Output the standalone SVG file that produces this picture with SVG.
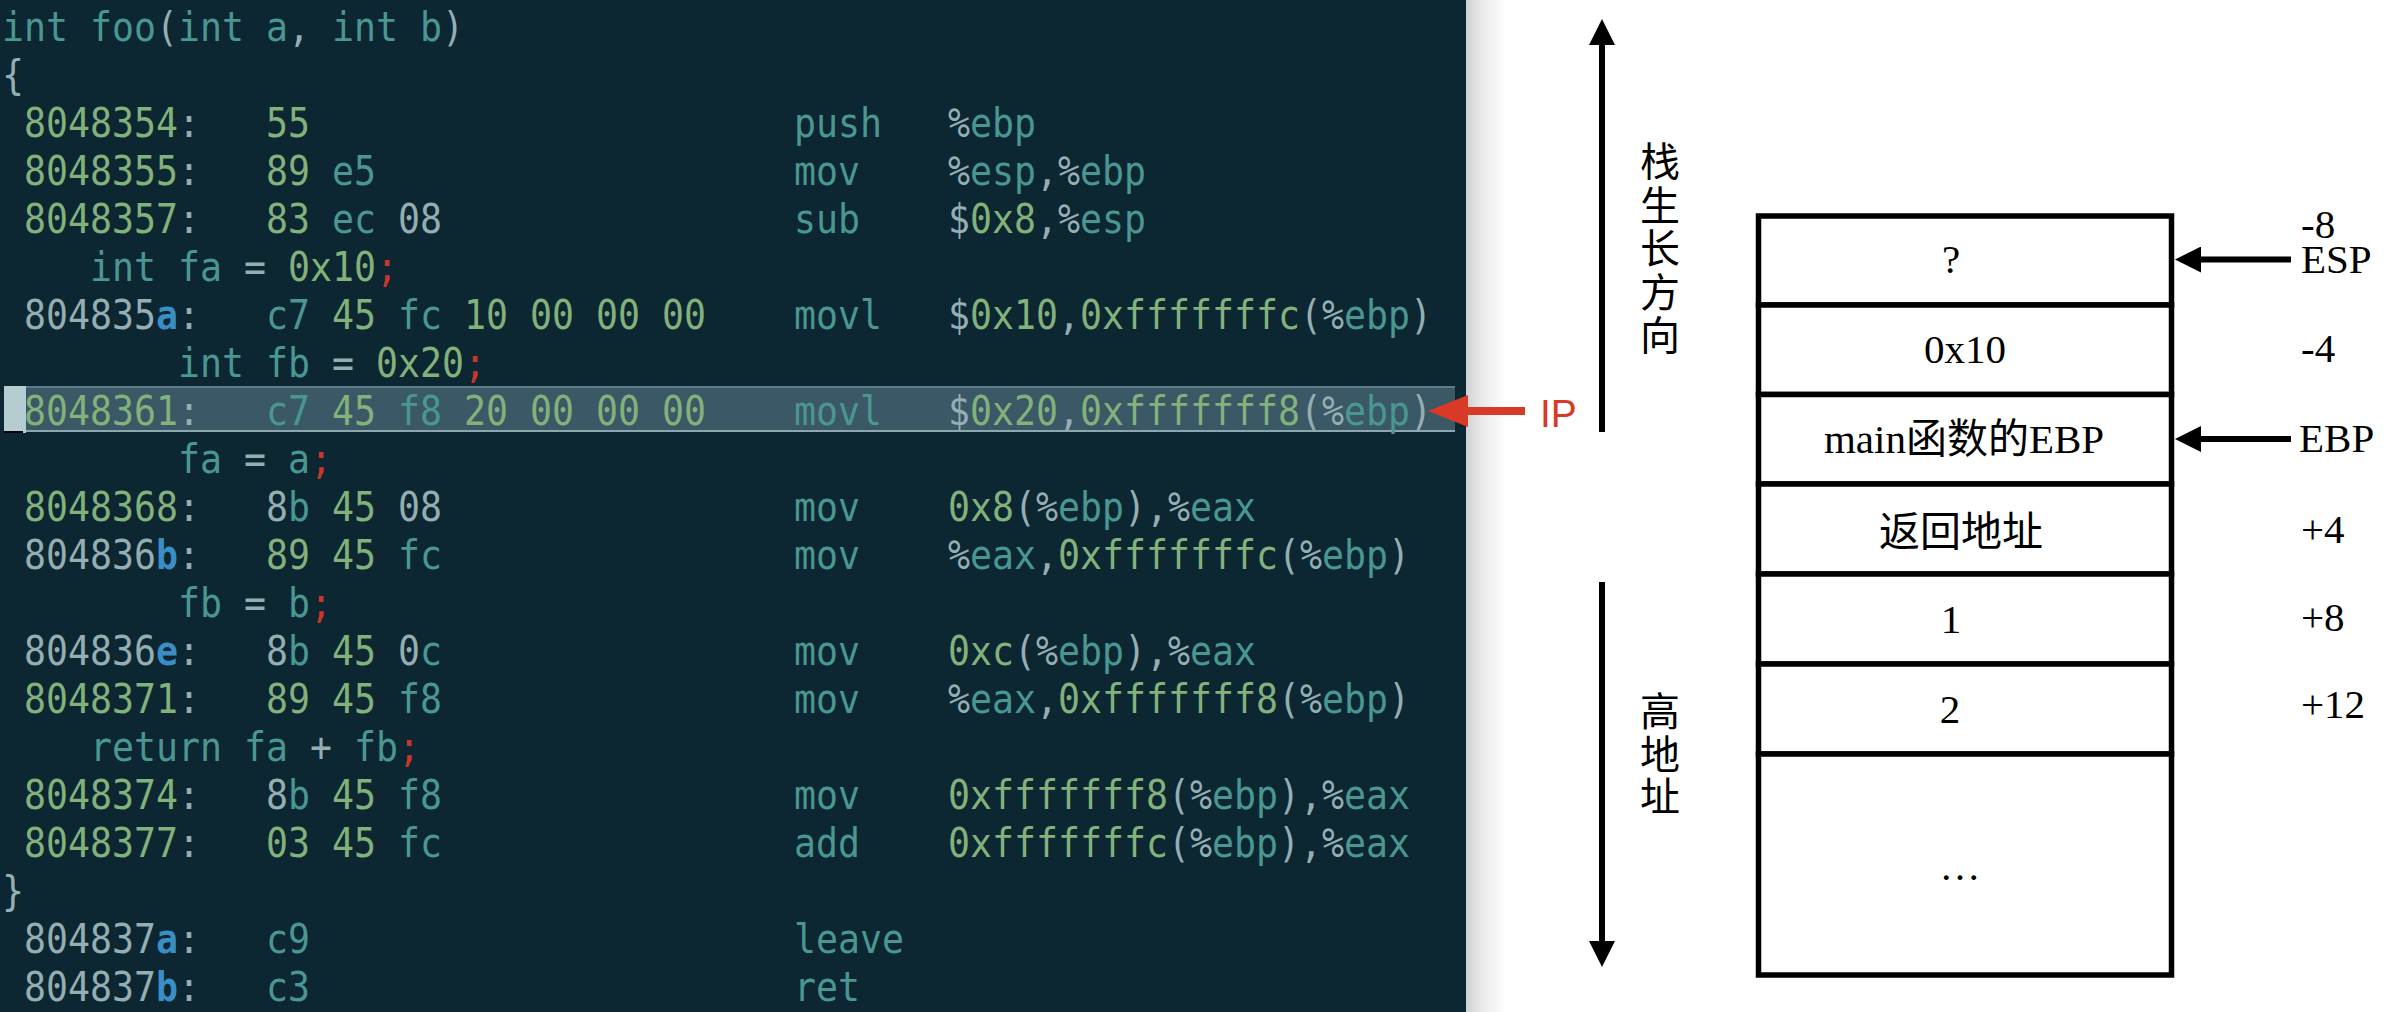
<svg xmlns="http://www.w3.org/2000/svg" width="2404" height="1012" viewBox="0 0 2404 1012">
<style>
.code{font-family:"DejaVu Sans Mono",monospace;font-size:40.5px}
.t{fill:#4a9792}
.g{fill:#82b17a}
.w{fill:#94aeb2}
.b{fill:#3a8ec6;font-weight:bold}
.r{fill:#c8372c}
.cell{fill:#fff;stroke:#000;stroke-width:5.5}
.lbl{font-family:"Liberation Serif","Noto Sans CJK SC",serif;font-size:41px;fill:#000}
.vt{font-family:"Noto Sans CJK SC",sans-serif;font-size:40px;fill:#000;writing-mode:vertical-rl}
.arr{stroke:#000;stroke-width:6;fill:none}
</style>
<defs>
<linearGradient id="shadow" x1="0" y1="0" x2="1" y2="0">
<stop offset="0" stop-color="#cfd1d2"/>
<stop offset="0.35" stop-color="#e8e8e8"/>
<stop offset="1" stop-color="#ffffff"/>
</linearGradient>
<marker id="head" markerUnits="userSpaceOnUse" markerWidth="26" markerHeight="26" refX="0" refY="13" orient="auto">
<path d="M0,0 L26,13 L0,26 z" fill="#000"/>
</marker>
<marker id="redhead" markerUnits="userSpaceOnUse" markerWidth="40" markerHeight="32" refX="0" refY="16" orient="auto">
<path d="M0,0 L40,16 L0,32 z" fill="#d93a26"/>
</marker>
</defs>
<rect x="0" y="0" width="2404" height="1012" fill="#ffffff"/>
<rect x="0" y="0" width="1466" height="1012" fill="#0c2632"/>
<rect x="1466" y="0" width="40" height="1012" fill="url(#shadow)"/>

<!-- highlighted current line -->
<g id="cursorline">
<rect x="26" y="386" width="1429" height="46" fill="#3a5866"/>
<rect x="4" y="386" width="1451" height="2" fill="#5b7c88"/>
<rect x="4" y="386" width="22" height="47" fill="#b5cdd0"/>
<rect x="26" y="430" width="1429" height="2" fill="#8aa8ad"/>
<rect x="4" y="431" width="19" height="2" fill="#000"/>
</g>

<g id="code" class="code" transform="translate(2,0) scale(0.9023,1)">
<text y="41"><tspan x="0" class="t">int foo</tspan><tspan x="170.68" class="w">(</tspan><tspan x="195.06" class="t">int a</tspan><tspan x="316.98" class="w">,</tspan><tspan x="365.74" class="t">int b</tspan><tspan x="487.66" class="w">)</tspan></text>
<text y="89"><tspan x="0" class="w">{</tspan></text>
<text y="137"><tspan x="24.38" class="g">8048354</tspan><tspan x="195.06" class="w">:</tspan><tspan x="292.6" class="g">55</tspan><tspan x="877.79" class="t">push</tspan><tspan x="1048.47" class="w">%</tspan><tspan x="1072.85" class="t">ebp</tspan></text>
<text y="185"><tspan x="24.38" class="g">8048355</tspan><tspan x="195.06" class="w">:</tspan><tspan x="292.6" class="g">89</tspan><tspan x="365.74" class="t">e5</tspan><tspan x="877.79" class="t">mov</tspan><tspan x="1048.47" class="w">%</tspan><tspan x="1072.85" class="t">esp</tspan><tspan x="1146" class="w">,%</tspan><tspan x="1194.77" class="t">ebp</tspan></text>
<text y="233"><tspan x="24.38" class="g">8048357</tspan><tspan x="195.06" class="w">:</tspan><tspan x="292.6" class="g">83</tspan><tspan x="365.74" class="t">ec</tspan><tspan x="438.89" class="w">08</tspan><tspan x="877.79" class="t">sub</tspan><tspan x="1048.47" class="w">$</tspan><tspan x="1072.85" class="g">0x8</tspan><tspan x="1146" class="w">,%</tspan><tspan x="1194.77" class="t">esp</tspan></text>
<text y="281"><tspan x="97.53" class="t">int fa</tspan><tspan x="268.21" class="w">=</tspan><tspan x="316.98" class="g">0x10</tspan><tspan x="414.51" class="r">;</tspan></text>
<text y="329"><tspan x="24.38" class="w">804835</tspan><tspan x="170.68" class="b">a</tspan><tspan x="195.06" class="w">:</tspan><tspan x="292.6" class="t">c7</tspan><tspan x="365.74" class="g">45</tspan><tspan x="438.89" class="t">fc</tspan><tspan x="512.04" class="g">10 00 00 00</tspan><tspan x="877.79" class="t">movl</tspan><tspan x="1048.47" class="w">$</tspan><tspan x="1072.85" class="g">0x10</tspan><tspan x="1170.38" class="w">,</tspan><tspan x="1194.77" class="g">0xfffffffc</tspan><tspan x="1438.6" class="w">(%</tspan><tspan x="1487.36" class="t">ebp</tspan><tspan x="1560.51" class="w">)</tspan></text>
<text y="377"><tspan x="195.06" class="t">int fb</tspan><tspan x="365.74" class="w">=</tspan><tspan x="414.51" class="g">0x20</tspan><tspan x="512.04" class="r">;</tspan></text>
<text y="425"><tspan x="24.38" class="g">8048361</tspan><tspan x="195.06" class="w">:</tspan><tspan x="292.6" class="t">c7</tspan><tspan x="365.74" class="g">45</tspan><tspan x="438.89" class="t">f8</tspan><tspan x="512.04" class="g">20 00 00 00</tspan><tspan x="877.79" class="t">movl</tspan><tspan x="1048.47" class="w">$</tspan><tspan x="1072.85" class="g">0x20</tspan><tspan x="1170.38" class="w">,</tspan><tspan x="1194.77" class="g">0xfffffff8</tspan><tspan x="1438.6" class="w">(%</tspan><tspan x="1487.36" class="t">ebp</tspan><tspan x="1560.51" class="w">)</tspan></text>
<text y="473"><tspan x="195.06" class="t">fa</tspan><tspan x="268.21" class="w">=</tspan><tspan x="316.98" class="t">a</tspan><tspan x="341.36" class="r">;</tspan></text>
<text y="521"><tspan x="24.38" class="g">8048368</tspan><tspan x="195.06" class="w">:</tspan><tspan x="292.6" class="w">8</tspan><tspan x="316.98" class="t">b</tspan><tspan x="365.74" class="g">45</tspan><tspan x="438.89" class="w">08</tspan><tspan x="877.79" class="t">mov</tspan><tspan x="1048.47" class="g">0x8</tspan><tspan x="1121.62" class="w">(%</tspan><tspan x="1170.38" class="t">ebp</tspan><tspan x="1243.53" class="w">),%</tspan><tspan x="1316.68" class="t">eax</tspan></text>
<text y="569"><tspan x="24.38" class="w">804836</tspan><tspan x="170.68" class="b">b</tspan><tspan x="195.06" class="w">:</tspan><tspan x="292.6" class="g">89</tspan><tspan x="365.74" class="g">45</tspan><tspan x="438.89" class="t">fc</tspan><tspan x="877.79" class="t">mov</tspan><tspan x="1048.47" class="w">%</tspan><tspan x="1072.85" class="t">eax</tspan><tspan x="1146" class="w">,</tspan><tspan x="1170.38" class="g">0xfffffffc</tspan><tspan x="1414.21" class="w">(%</tspan><tspan x="1462.98" class="t">ebp</tspan><tspan x="1536.13" class="w">)</tspan></text>
<text y="617"><tspan x="195.06" class="t">fb</tspan><tspan x="268.21" class="w">=</tspan><tspan x="316.98" class="t">b</tspan><tspan x="341.36" class="r">;</tspan></text>
<text y="665"><tspan x="24.38" class="w">804836</tspan><tspan x="170.68" class="b">e</tspan><tspan x="195.06" class="w">:</tspan><tspan x="292.6" class="w">8</tspan><tspan x="316.98" class="t">b</tspan><tspan x="365.74" class="g">45</tspan><tspan x="438.89" class="w">0</tspan><tspan x="463.28" class="t">c</tspan><tspan x="877.79" class="t">mov</tspan><tspan x="1048.47" class="g">0xc</tspan><tspan x="1121.62" class="w">(%</tspan><tspan x="1170.38" class="t">ebp</tspan><tspan x="1243.53" class="w">),%</tspan><tspan x="1316.68" class="t">eax</tspan></text>
<text y="713"><tspan x="24.38" class="g">8048371</tspan><tspan x="195.06" class="w">:</tspan><tspan x="292.6" class="g">89</tspan><tspan x="365.74" class="g">45</tspan><tspan x="438.89" class="t">f8</tspan><tspan x="877.79" class="t">mov</tspan><tspan x="1048.47" class="w">%</tspan><tspan x="1072.85" class="t">eax</tspan><tspan x="1146" class="w">,</tspan><tspan x="1170.38" class="g">0xfffffff8</tspan><tspan x="1414.21" class="w">(%</tspan><tspan x="1462.98" class="t">ebp</tspan><tspan x="1536.13" class="w">)</tspan></text>
<text y="761"><tspan x="97.53" class="t">return</tspan><tspan x="268.21" class="t">fa</tspan><tspan x="341.36" class="w">+</tspan><tspan x="390.13" class="t">fb</tspan><tspan x="438.89" class="r">;</tspan></text>
<text y="809"><tspan x="24.38" class="g">8048374</tspan><tspan x="195.06" class="w">:</tspan><tspan x="292.6" class="w">8</tspan><tspan x="316.98" class="t">b</tspan><tspan x="365.74" class="g">45</tspan><tspan x="438.89" class="t">f8</tspan><tspan x="877.79" class="t">mov</tspan><tspan x="1048.47" class="g">0xfffffff8</tspan><tspan x="1292.3" class="w">(%</tspan><tspan x="1341.07" class="t">ebp</tspan><tspan x="1414.21" class="w">),%</tspan><tspan x="1487.36" class="t">eax</tspan></text>
<text y="857"><tspan x="24.38" class="g">8048377</tspan><tspan x="195.06" class="w">:</tspan><tspan x="292.6" class="g">03</tspan><tspan x="365.74" class="g">45</tspan><tspan x="438.89" class="t">fc</tspan><tspan x="877.79" class="t">add</tspan><tspan x="1048.47" class="g">0xfffffffc</tspan><tspan x="1292.3" class="w">(%</tspan><tspan x="1341.07" class="t">ebp</tspan><tspan x="1414.21" class="w">),%</tspan><tspan x="1487.36" class="t">eax</tspan></text>
<text y="905"><tspan x="0" class="w">}</tspan></text>
<text y="953"><tspan x="24.38" class="w">804837</tspan><tspan x="170.68" class="b">a</tspan><tspan x="195.06" class="w">:</tspan><tspan x="292.6" class="t">c9</tspan><tspan x="877.79" class="t">leave</tspan></text>
<text y="1001"><tspan x="24.38" class="w">804837</tspan><tspan x="170.68" class="b">b</tspan><tspan x="195.06" class="w">:</tspan><tspan x="292.6" class="t">c3</tspan><tspan x="877.79" class="t">ret</tspan></text>
</g>

<g id="ip-label">
<text x="1540" y="427" font-family="Liberation Sans, Arial, sans-serif" font-size="39" fill="#d93a26">IP</text>
</g>

<g id="grow-label">
<text class="vt" x="1660" y="141" letter-spacing="3.5">栈生长方向</text>
</g>
<g id="high-label">
<text class="vt" x="1660" y="691" letter-spacing="2.5">高地址</text>
</g>

<g id="stack">
<g id="cell-esp"><rect class="cell" x="1758.5" y="216" width="413" height="89"/><text class="lbl" x="1951" y="273" text-anchor="middle">?</text></g>
<g id="cell-0x10"><rect class="cell" x="1758.5" y="305" width="413" height="89.5"/><text class="lbl" x="1965" y="363" text-anchor="middle">0x10</text></g>
<g id="cell-ebp"><rect class="cell" x="1758.5" y="394.5" width="413" height="89.5"/><text class="lbl" x="1964" y="453" text-anchor="middle">main函数的EBP</text></g>
<g id="cell-ret"><rect class="cell" x="1758.5" y="484" width="413" height="90"/><text class="lbl" x="1961" y="546" text-anchor="middle">返回地址</text></g>
<g id="cell-1"><rect class="cell" x="1758.5" y="574" width="413" height="90"/><text class="lbl" x="1951" y="633" text-anchor="middle">1</text></g>
<g id="cell-2"><rect class="cell" x="1758.5" y="664" width="413" height="90"/><text class="lbl" x="1950" y="723" text-anchor="middle">2</text></g>
<g id="cell-more"><rect class="cell" x="1758.5" y="754" width="413" height="221"/><text class="lbl" x="1960" y="880" text-anchor="middle">…</text></g>
</g>

<g id="offsets" class="lbl">
<text><tspan x="2301" y="238">-8</tspan><tspan x="2301" y="273">ESP</tspan></text>
<text x="2301" y="362">-4</text>
<text x="2299" y="452">EBP</text>
<text x="2301" y="543">+4</text>
<text x="2301" y="631">+8</text>
<text x="2301" y="718">+12</text>
</g>

<g id="connectors">
<line class="arr" x1="1602" y1="432" x2="1602" y2="45" marker-end="url(#head)"/>
<line class="arr" x1="1602" y1="582" x2="1602" y2="941" marker-end="url(#head)"/>
<line class="arr" x1="2291" y1="259.5" x2="2201" y2="259.5" marker-end="url(#head)"/>
<line class="arr" x1="2291" y1="439" x2="2201" y2="439" marker-end="url(#head)"/>
<line x1="1525" y1="411" x2="1468" y2="411" stroke="#d93a26" stroke-width="8" marker-end="url(#redhead)"/>
</g>
</svg>
